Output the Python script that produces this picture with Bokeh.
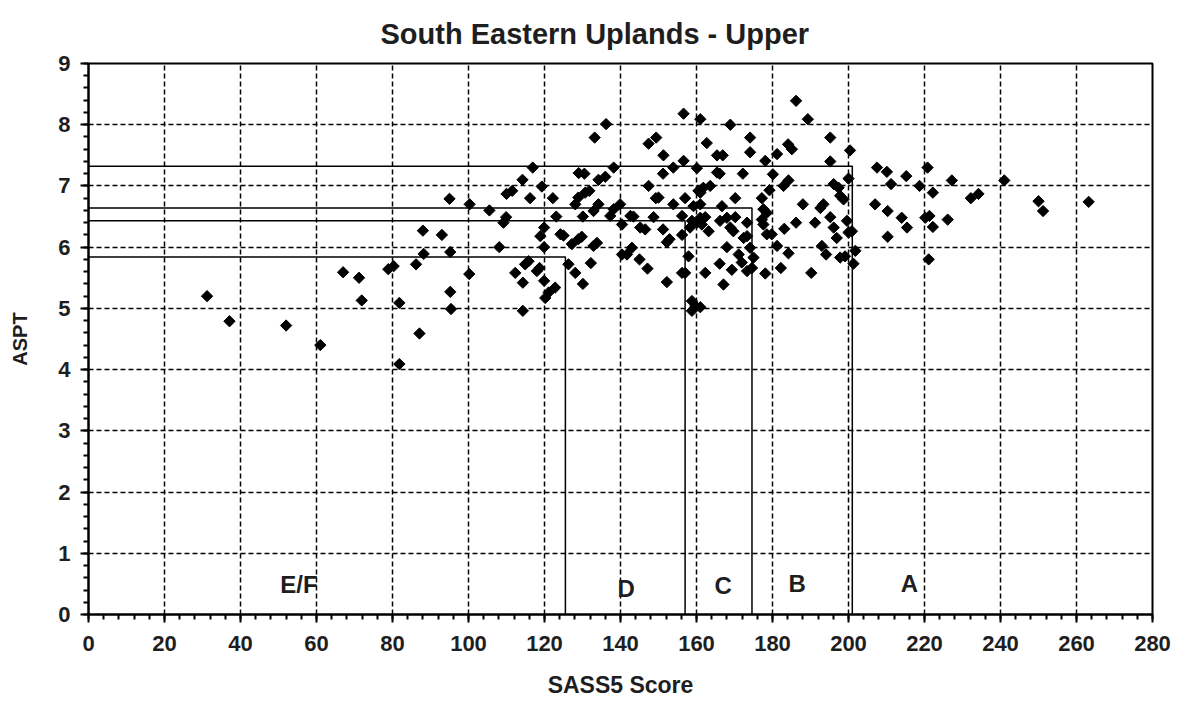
import math
from bokeh.plotting import figure
from bokeh.models import Range1d, SingleIntervalTicker
from bokeh.core.properties import value
from bokeh.embed import file_html
from bokeh.resources import INLINE

# ---- data ----
sass5 = [31.2, 37.1, 52.0, 61.0, 67.0, 71.2, 71.9, 78.9, 80.3, 81.8, 81.8,
         86.2, 87.1, 88.2, 95.2, 95.2, 95.4, 100.2,
         136.2, 133.2, 116.9, 114.2, 119.3, 110.0, 111.5, 95.0, 100.3, 105.5, 116.2, 122.2,
         109.9, 109.2, 123.1, 129.0, 130.5, 134.2, 136.0, 138.2, 131.8, 130.7, 128.9, 128.1,
         134.2, 132.9, 130.1, 138.2, 137.3,
         88.0, 93.0, 108.1, 119.9, 118.9, 119.9, 124.2, 125.0, 129.8, 128.9, 127.2, 133.8, 132.9,
         115.8, 114.9, 118.0, 118.7, 112.3, 114.3, 119.9, 122.8, 121.1, 120.2, 126.3, 128.1,
         130.1, 132.2, 114.3,
         186.2, 189.3, 156.6, 161.0, 168.9, 147.4, 149.4, 151.3, 162.7, 174.1, 174.1, 165.4,
         166.9, 156.6, 153.9, 160.1, 151.2, 165.4, 166.1, 172.2, 178.1, 181.2, 184.1, 185.1,
         195.2, 195.2, 200.4, 180.1,
         147.4, 160.5, 161.8, 163.6, 179.2, 182.9, 184.2, 196.1, 197.4, 200.0,
         149.3, 150.0, 157.0, 161.0, 170.2, 177.2, 153.9, 159.2, 161.0, 166.7, 177.6, 178.5,
         188.0, 192.6, 193.4,
         139.9, 142.6, 143.4, 148.7, 156.2, 158.8, 161.0, 162.3, 166.2, 168.0, 170.2, 173.3,
         177.2, 177.6, 186.2, 191.2, 195.2,
         140.4, 145.2, 146.5, 151.2, 156.2, 158.3, 160.1, 161.4, 163.2, 168.9, 169.7, 172.4,
         173.3, 178.5, 179.8, 183.1, 196.1, 196.9, 152.2, 152.9,
         143.0, 141.7, 140.4, 145.0, 147.1, 152.2, 156.2, 157.0, 157.9, 162.3, 166.1, 167.1,
         168.0, 169.3, 171.1, 171.9, 173.3, 174.6, 175.0, 174.1, 178.1, 181.2, 182.2, 184.2,
         190.2, 193.0, 194.1, 158.8, 159.7, 158.8, 161.0,
         207.5, 210.1, 215.2, 220.8, 227.2, 241.0, 211.2, 218.7, 222.2, 232.2, 234.2, 250.0,
         251.2, 263.2, 207.0, 210.3, 214.0, 215.4, 220.2, 221.3, 222.2, 226.1, 210.3, 221.1,
         197.8, 198.7, 199.6, 200.9, 200.0, 201.8, 197.8, 199.1, 201.3]
aspt = [5.20, 4.79, 4.72, 4.40, 5.59, 5.50, 5.13, 5.64, 5.69, 5.09, 4.09,
        5.72, 4.59, 5.89, 5.92, 5.27, 4.99, 5.56,
        8.01, 7.79, 7.30, 7.10, 6.99, 6.87, 6.92, 6.79, 6.70, 6.60, 6.80, 6.80,
        6.49, 6.40, 6.50, 7.21, 7.20, 7.10, 7.15, 7.30, 6.92, 6.89, 6.81, 6.70,
        6.70, 6.59, 6.50, 6.62, 6.51,
        6.27, 6.20, 6.00, 6.32, 6.18, 6.00, 6.21, 6.19, 6.17, 6.13, 6.05, 6.07, 6.02,
        5.77, 5.72, 5.61, 5.66, 5.58, 5.42, 5.45, 5.34, 5.26, 5.17, 5.72, 5.58,
        5.40, 5.74, 4.96,
        8.39, 8.09, 8.18, 8.09, 8.00, 7.69, 7.79, 7.50, 7.70, 7.79, 7.55, 7.50,
        7.50, 7.41, 7.30, 7.29, 7.20, 7.22, 7.20, 7.20, 7.41, 7.52, 7.68, 7.60,
        7.79, 7.40, 7.58, 7.19,
        7.00, 6.92, 6.97, 7.00, 6.93, 7.00, 7.09, 7.03, 6.97, 7.12,
        6.80, 6.81, 6.80, 6.89, 6.80, 6.80, 6.70, 6.67, 6.70, 6.67, 6.62, 6.56,
        6.70, 6.64, 6.70,
        6.70, 6.51, 6.50, 6.49, 6.51, 6.43, 6.48, 6.49, 6.43, 6.48, 6.49, 6.40,
        6.45, 6.37, 6.40, 6.40, 6.49,
        6.37, 6.32, 6.29, 6.29, 6.20, 6.32, 6.40, 6.37, 6.26, 6.32, 6.26, 6.15,
        6.18, 6.21, 6.21, 6.30, 6.32, 6.15, 6.08, 6.13,
        5.99, 5.88, 5.88, 5.80, 5.65, 5.43, 5.58, 5.58, 5.85, 5.58, 5.73, 5.39,
        6.00, 5.63, 5.88, 5.75, 5.61, 5.66, 5.83, 5.99, 5.57, 6.02, 5.66, 5.90,
        5.58, 6.02, 5.88, 5.12, 5.04, 4.96, 5.02,
        7.30, 7.23, 7.16, 7.30, 7.09, 7.09, 7.03, 7.00, 6.89, 6.80, 6.87, 6.75,
        6.59, 6.74, 6.70, 6.59, 6.48, 6.32, 6.48, 6.51, 6.33, 6.45, 6.17, 5.80,
        6.84, 6.78, 6.43, 6.26, 6.24, 5.94, 5.83, 5.85, 5.73]

# class boundaries (SASS5 score limit, ASPT limit)
class_sass = [125.5, 157.0, 174.6, 201.0]
class_aspt = [5.84, 6.43, 6.64, 7.32]

class_names = ["E/F", "D", "C", "B", "A"]
class_name_x = [55.4, 141.5, 167.0, 186.5, 216.0]
class_name_y = [0.49, 0.43, 0.47, 0.50, 0.50]

FONT = "Liberation Sans"
INK = "#1e1e1e"

p = figure(width=1174, height=709, output_backend="svg", toolbar_location=None,
           x_range=Range1d(0, 280), y_range=Range1d(0, 9),
           min_border_left=88, min_border_right=22, min_border_top=63, min_border_bottom=95,
           frame_width=1064, frame_height=551)

p.title.text = "South Eastern Uplands - Upper"
p.title.align = "left"
p.title.offset = 292
p.title.text_font = FONT
p.title.text_font_size = "29px"
p.title.text_font_style = "bold"
p.title.text_color = INK
p.title.standoff = 27

p.outline_line_color = "black"
p.outline_line_width = 2
p.background_fill_color = "white"
p.border_fill_color = "white"

p.xaxis.ticker = SingleIntervalTicker(interval=20, num_minor_ticks=5)
p.yaxis.ticker = SingleIntervalTicker(interval=1, num_minor_ticks=5)

for ax in (p.xaxis[0], p.yaxis[0]):
    ax.axis_line_color = "black"
    ax.axis_line_width = 2
    ax.major_tick_line_color = "black"
    ax.minor_tick_line_color = "black"
    ax.major_tick_line_width = 2
    ax.minor_tick_line_width = 2
    ax.major_tick_out = 8
    ax.major_tick_in = 0
    ax.minor_tick_out = 5
    ax.minor_tick_in = 0
    ax.major_label_text_font = FONT
    ax.major_label_text_font_size = "22px"
    ax.major_label_text_font_style = "bold"
    ax.major_label_text_color = INK
    ax.axis_label_text_font = FONT
    ax.axis_label_text_font_style = "bold"
    ax.axis_label_text_color = INK

p.xaxis.axis_label = "SASS5 Score"
p.yaxis.axis_label = "ASPT"
p.xaxis.axis_label_text_font_size = "23px"
p.yaxis.axis_label_text_font_size = "20px"
p.xaxis.major_label_standoff = 13
p.xaxis.axis_label_standoff = 18
p.yaxis.major_label_standoff = 10
p.yaxis.axis_label_standoff = 24

for g in (p.xgrid[0], p.ygrid[0]):
    g.grid_line_color = "black"
    g.grid_line_dash = "5 3"
    g.grid_line_width = 1.5
p.xgrid.ticker = SingleIntervalTicker(interval=20)
p.ygrid.ticker = SingleIntervalTicker(interval=1)

# class boundary lines
xs = [[0, bx, bx] for bx in class_sass]
ys = [[by, by, 0] for by in class_aspt]
p.multi_line(xs, ys, line_color="black", line_width=1.5)

p.scatter(sass5, aspt, marker="square", size=8, angle=math.pi / 4,
          fill_color="black", line_color="black", line_width=1)

p.text(x=class_name_x, y=class_name_y, text=class_names, text_align="center",
       text_baseline="alphabetic", text_font_size="24px", text_font_style="bold",
       text_color=INK, text_font=value(FONT))

open("out.html", "w").write(file_html(p, INLINE))
